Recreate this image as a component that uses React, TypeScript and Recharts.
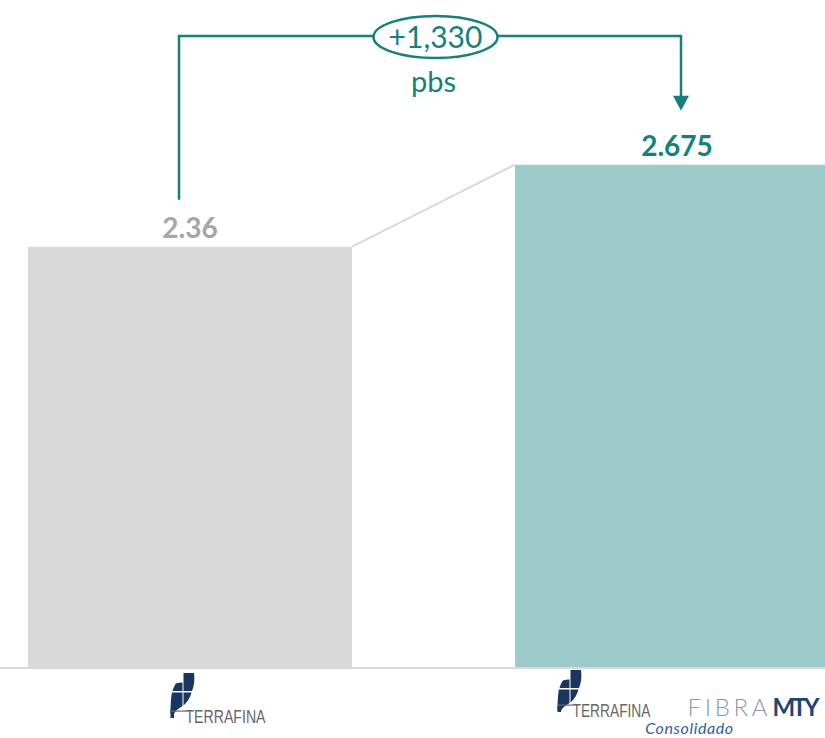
import React from "react";
import { BarChart, Bar, XAxis, YAxis, Cell, LabelList } from "recharts";

const categories = ["Terrafina", "Terrafina + Fibra MTY"];
const values = [2.36, 2.675];
const valueLabels = ["2.36", "2.675"];
const changeLabel = "+1,330";
const changeUnit = "pbs";
const subLabel = "Consolidado";

const BAR_COLORS = ["#d9d9d9", "#9ccbca"];
const LABEL_COLORS = ["#a6a6a6", "#13817c"];
const TEAL = "#13817c";
const NAVY = "#1a3560";
const FONT = "Lato, 'Open Sans', sans-serif";

const data = categories.map((name, i) => ({ name, value: values[i] }));

// bar geometry collected while labels render, used by the bracket
const geo: Record<number, { x: number; y: number; w: number }> = {};

function TerrafinaLogo({ x, y, textLen, textDy }: { x: number; y: number; textLen: number; textDy: number }) {
  return (
    <g>
      <g transform={`translate(${x},${y})`} fill={NAVY}>
        <path d="M 13 0 L 23.5 0 C 24.5 7, 23.5 13, 21.5 18 L 13 18 Z" />
        <path d="M 5.5 10.5 C 8 9.8, 10 9.6, 12 9.6 L 12 18 L 2 18 C 2.8 15, 4 12.5, 5.5 10.5 Z" />
        <path d="M 1.4 19.5 L 12 19.5 L 12 33 C 8 35.5, 4.5 38, 3.5 41 L 0 41 C 0 32, 0.4 25, 1.4 19.5 Z" />
        <path d="M 13 19.5 L 21 19.5 C 19.5 25, 16.5 29.5, 13 32.5 Z" />
        <rect x={0} y={36} width={3.5} height={textDy - 41} />
        <rect x={0} y={textDy - 12.5} width={16} height={1.2} fill="#6b6b6b" />
      </g>
      <text
        x={x + 15}
        y={y + textDy}
        fontSize={18}
        fill="#676767"
        fontFamily="'Liberation Sans Narrow', 'Liberation Sans', Arial, sans-serif"
        textLength={textLen}
        lengthAdjust="spacingAndGlyphs"
      >
        TERRAFINA
      </text>
    </g>
  );
}

function LogoTick(props: any) {
  const { x, y, index } = props;
  if (index === 0) {
    return <TerrafinaLogo x={x - 19} y={y + 5} textLen={80} textDy={50} />;
  }
  return (
    <g>
      <TerrafinaLogo x={x - 119} y={y + 2} textLen={78} textDy={47} />
      <text
        x={x + 11}
        y={y + 48}
        fontSize={24}
        fontWeight={300}
        fill="#8a99ad"
        fontFamily={FONT}
        textLength={80}
        lengthAdjust="spacing"
      >
        FIBRA
      </text>
      <text
        x={x + 96}
        y={y + 48}
        fontSize={24}
        fontWeight={700}
        fill="#1f4477"
        fontFamily={FONT}
        textLength={47}
        lengthAdjust="spacing"
      >
        MTY
      </text>
      <text
        x={x + 13}
        y={y + 66}
        textAnchor="middle"
        fontSize={16}
        fontStyle="italic"
        fill="#2f5ea8"
        fontFamily={FONT}
        letterSpacing={0.6}
      >
        {subLabel}
      </text>
    </g>
  );
}

function Bracket() {
  const a = geo[0];
  const b = geo[1];
  if (!a || !b) return null;
  const c0 = a.x + a.w / 2;
  const c1 = b.x + b.w / 2;
  const lx = c0 - 11;
  const rx = c1 + 4;
  const top = 36;
  const mx = (c0 + c1) / 2 + 2;
  const erx = 62;
  const tip = b.y - 54;
  return (
    <g>
      <line x1={a.x + a.w} y1={a.y} x2={b.x} y2={b.y} stroke="#d9d9d9" strokeWidth={2} />
      <polyline
        points={`${lx},${a.y - 47} ${lx},${top} ${mx - erx},${top}`}
        fill="none"
        stroke={TEAL}
        strokeWidth={2.5}
      />
      <polyline
        points={`${mx + erx},${top} ${rx},${top} ${rx},${tip - 14}`}
        fill="none"
        stroke={TEAL}
        strokeWidth={2.5}
      />
      <polygon points={`${rx - 8},${tip - 15} ${rx + 8},${tip - 15} ${rx},${tip}`} fill={TEAL} />
      <ellipse cx={mx} cy={top + 1} rx={erx} ry={21} fill="#fff" stroke={TEAL} strokeWidth={2.5} />
      <text x={mx} y={top + 12} textAnchor="middle" fontSize={30} fill={TEAL} fontFamily={FONT}>
        {changeLabel}
      </text>
      <text x={mx - 2} y={top + 56} textAnchor="middle" fontSize={29} fill={TEAL} fontFamily={FONT}>
        {changeUnit}
      </text>
    </g>
  );
}

function ValueLabel(props: any) {
  const x = Number(props.x);
  const y = Number(props.y);
  const w = Number(props.width);
  const index = props.index;
  geo[index] = { x, y, w };
  return (
    <g>
      <text
        x={x + w / 2}
        y={y - 9}
        textAnchor="middle"
        fontSize={28}
        fontWeight={700}
        fill={LABEL_COLORS[index]}
        fontFamily={FONT}
      >
        {valueLabels[index]}
      </text>
      {index === 1 && <Bracket />}
    </g>
  );
}

export default function App() {
  return (
    <div
      style={{
        position: "absolute",
        left: 0,
        top: 0,
        width: 825,
        height: 738,
        overflow: "hidden",
        background: "#fff",
      }}
    >
      <div style={{ position: "absolute", left: -54.5, top: 0 }}>
        <BarChart width={974} height={738} data={data} margin={{ top: 80, right: 0, bottom: 0, left: 0 }}>
          <XAxis
            dataKey="name"
            height={70}
            interval={0}
            tickLine={false}
            tickSize={0}
            tickMargin={0}
            axisLine={{ stroke: "#d9d9d9", strokeWidth: 2 }}
            tick={<LogoTick />}
          />
          <YAxis hide domain={[0.7427, 3]} />
          <Bar dataKey="value" barSize={324} isAnimationActive={false}>
            {data.map((d, i) => (
              <Cell key={d.name} fill={BAR_COLORS[i]} />
            ))}
            <LabelList dataKey="value" content={<ValueLabel />} />
          </Bar>
        </BarChart>
      </div>
    </div>
  );
}
